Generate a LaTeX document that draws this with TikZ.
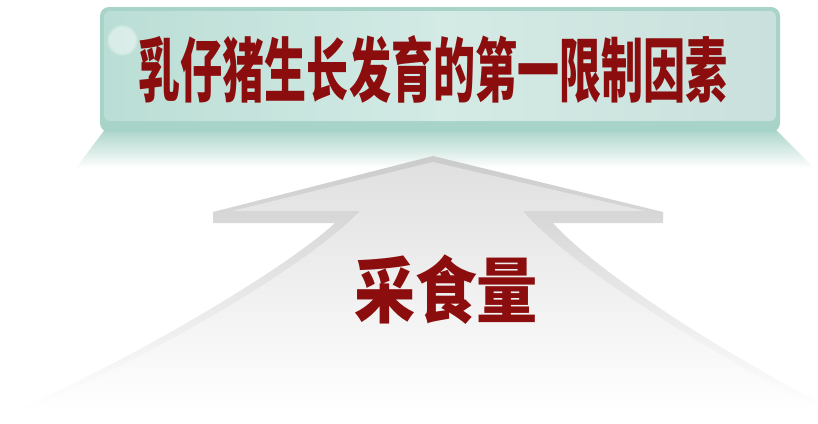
\documentclass[tikz,border=0pt]{standalone}
\usepackage{fontspec}
\newfontfamily\cjk{Noto Sans CJK SC}
\usepackage{tikz}
\usetikzlibrary{fadings}

\definecolor{titlered}{HTML}{8B0D0D}
\definecolor{mintrim}{HTML}{A8D3C8}
\definecolor{mintleft}{HTML}{BADED5}
\definecolor{mintmid}{HTML}{D3EAE5}
\definecolor{mintright}{HTML}{C9E0DC}
\definecolor{arrowedge}{HTML}{CBCBCB}
\definecolor{arrowface}{HTML}{E0E0E0}

\tikzset{
  redtext/.style={text=titlered, inner sep=0pt},
}

\begin{document}
\begin{tikzpicture}[x=1pt, y=-1pt]
        \useasboundingbox (0,0) rectangle (818,423);
        \fill[white] (0,0) rectangle (818,423);

        % bevel under the box
        \shade[top color=mintrim, bottom color=white] (106,128) -- (774,128) -- (814,168) -- (76,168) -- cycle;

        % box
        \fill[mintrim, rounded corners=9pt] (100,7) rectangle (780,132);
        \shade[left color=mintleft, right color=mintright, middle color=mintmid, rounded corners=6pt] (104,11) rectangle (776,121);
        \fill[white, path fading=circle with fuzzy edge 20 percent, opacity=0.45] (122,40) circle (16);

        % arrow
        \shade[top color=arrowedge, bottom color=white]
            (433,156) -- (213,212) -- (213,223) -- (335,223)
            .. controls (290,265) and (150,350) .. (18,410)
            -- (818,410) -- (815,400)
            .. controls (700,340) and (590,265) .. (553,223)
            -- (663,223) -- (663,212) -- cycle;
        \shade[top color=arrowface, bottom color=white]
            (433,162) -- (232,211) -- (360,211)
            .. controls (312,262) and (165,350) .. (26,410)
            -- (810,405)
            .. controls (690,340) and (565,262) .. (523,211)
            -- (645,211) -- cycle;

        \node[redtext, font=\cjk\bfseries\fontsize{70}{74}\selectfont, xscale=0.6] (title) at (433,69) {乳仔猪生长发育的第一限制因素};
        \node[redtext, font=\cjk\bfseries\fontsize{72}{76}\selectfont, xscale=0.85] (intake) at (446,290) {采食量};
    \end{tikzpicture}
\end{document}
